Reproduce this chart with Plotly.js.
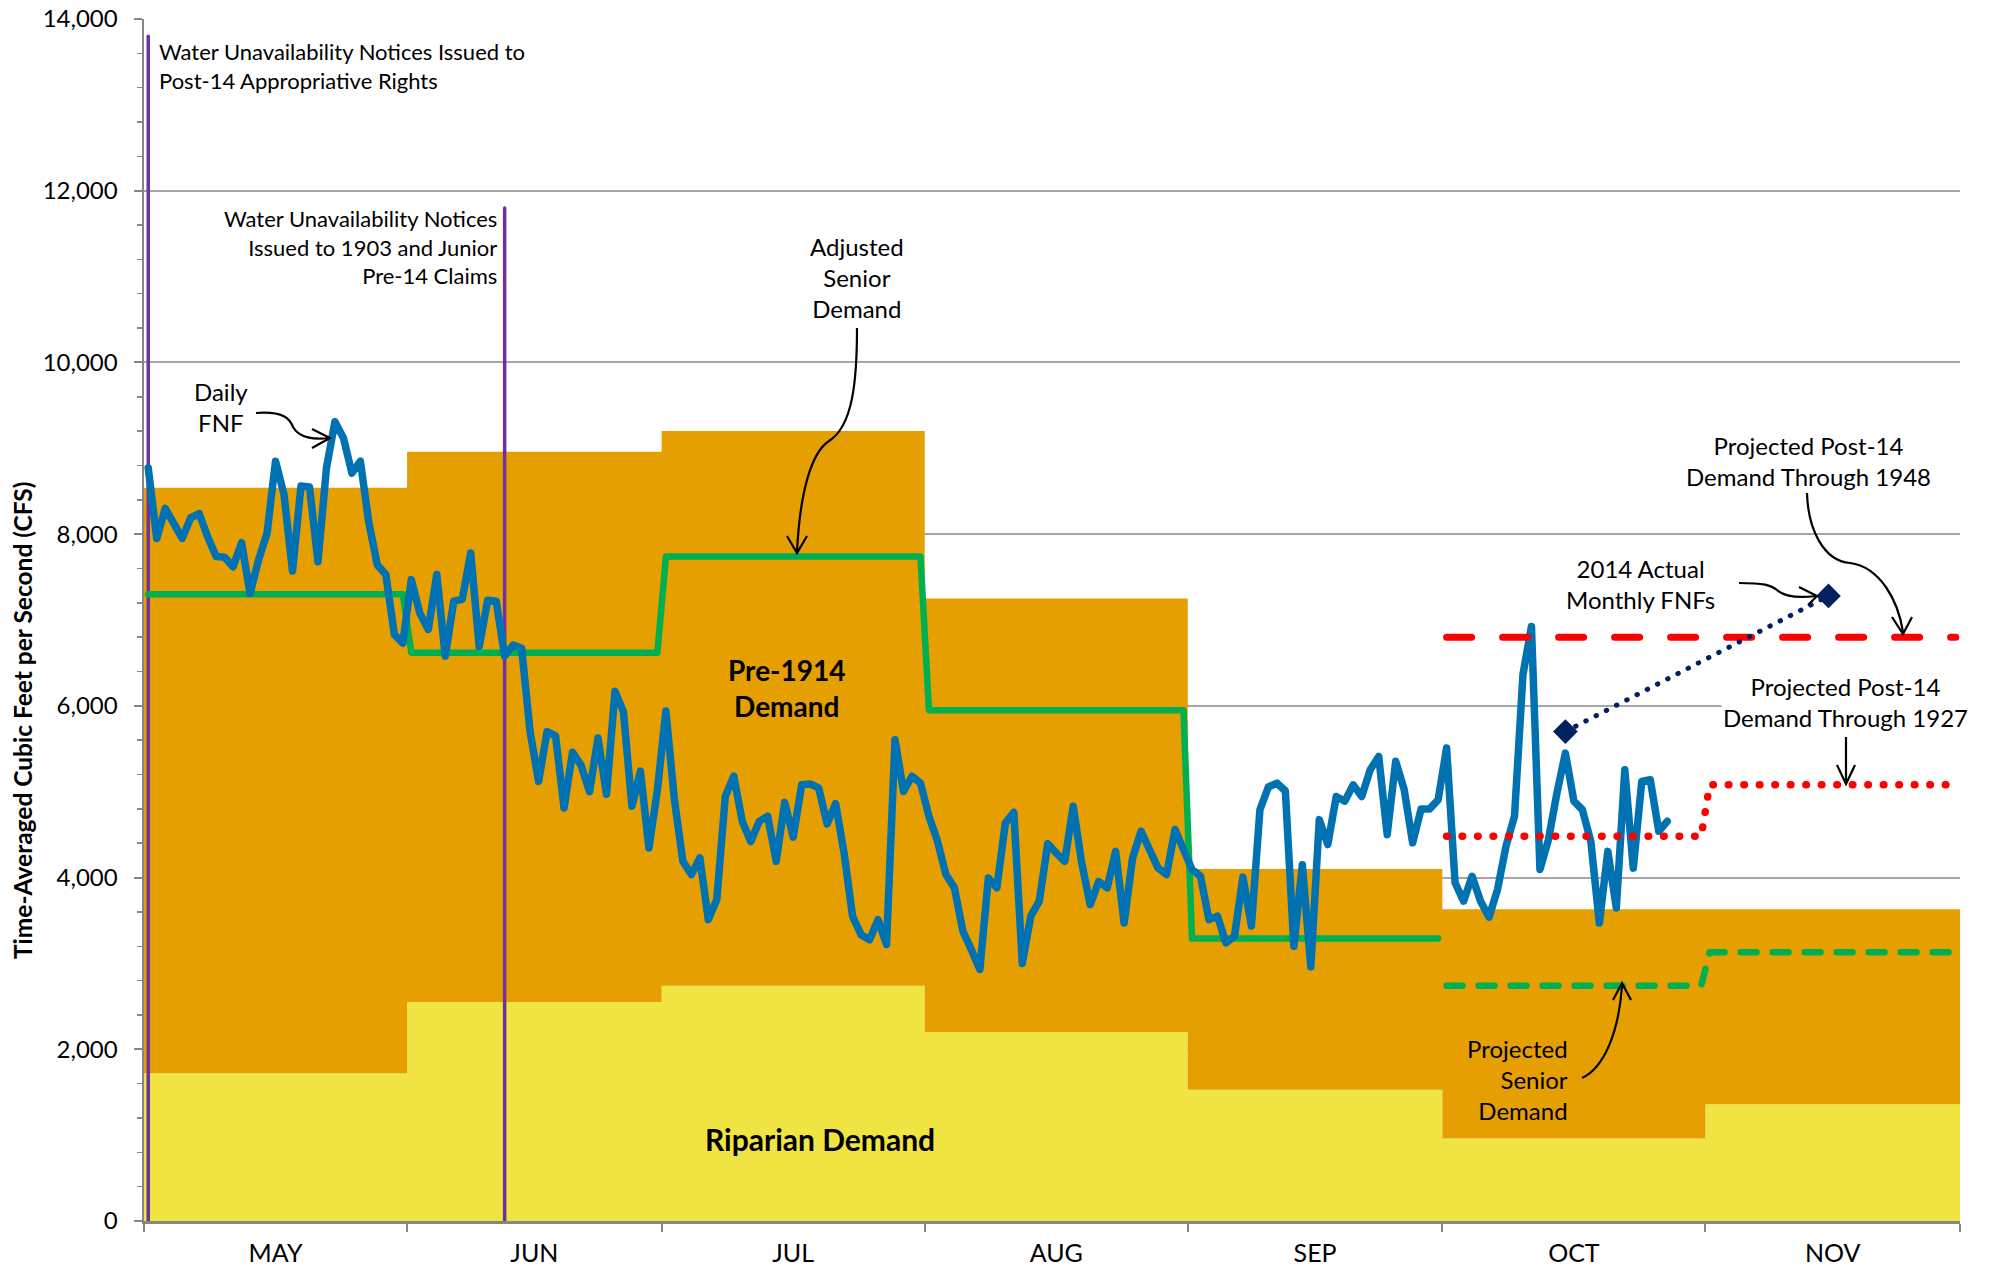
<!DOCTYPE html>
<html><head><meta charset="utf-8">
<script src="https://cdn.plot.ly/plotly-3.0.1.min.js"></script>
<style>
html,body{margin:0;padding:0;background:#fff;}
#chart{width:1993px;height:1267px;}
.js-line{stroke-linecap:round;stroke-linejoin:round;}
</style></head><body><div id="chart"></div>
<script>
// ---------------- DATA ----------------
const months = ['MAY','JUN','JUL','AUG','SEP','OCT','NOV'];
const monthStarts = ['2014-05-01','2014-06-01','2014-07-01','2014-08-01','2014-09-01','2014-10-01','2014-11-01'];
const monthDays = [31,30,31,31,30,31,30];
const riparianDemand = [1720,2550,2740,2200,1530,960,1360];
const pre1914Demand = [6820,6410,6460,5050,2570,2670,2270];
const adjustedSeniorDemand = [7300,6620,7740,5950,3290];      // MAY..SEP
const projectedSeniorDemand = [2740,3130];                     // OCT..NOV
const projectedPost14Thru1948 = [6800,6800];                   // OCT..NOV
const projectedPost14Thru1927 = [4480,5080];                   // OCT..NOV
const monthlyFNFDates = ['2014-10-15','2014-11-15'];
const monthlyFNF = [5700,7280];
const noticeDates = ['2014-05-01','2014-06-12'];
const noticeTops = [13800,11800];
const fnfStart = '2014-05-01';
const dailyFNF = [
8770,7950,8300,8130,7950,8190,8240,7970,7740,7730,7620,7900,7310,7700,8010,8850,8460,7570,8560,8550,
7680,8770,9310,9120,8710,8850,8130,7640,7530,6830,6730,
7470,7080,6890,7530,6580,7220,7240,7780,6690,7230,7220,6580,6710,6670,5700,5120,5700,5650,4810,5460,
5310,5000,5625,4970,6170,5930,4830,5240,4345,5020,
5940,4910,4190,4035,4230,3510,3745,4945,5180,4655,4420,4655,4715,4190,4875,4470,5080,5090,5045,4625,
4860,4285,3550,3335,3275,3510,3220,5605,5005,5180,5100,
4715,4425,4035,3880,3375,3160,2930,3995,3880,4635,4760,3000,3550,3725,4395,4285,4190,4830,4170,3685,
3955,3880,4305,3470,4230,4540,4325,4110,4035,4560,4325,
4095,4015,3510,3550,3240,3315,4005,3435,4790,5055,5100,5010,3200,4150,2960,4675,4385,4945,4890,5080,
4945,5255,5410,4500,5355,5025,4405,4800,4800,4905,
5510,3940,3725,4015,3725,3540,3860,4365,4715,6365,6925,4095,4440,4985,5450,4890,4790,4420,3470,4305,
3645,5255,4110,5120,5140,4540,4655
];

// ---------------- HELPERS ----------------
function addDays(iso, days){
  const p = iso.split('-').map(Number);
  const t = new Date(Date.UTC(p[0], p[1]-1, p[2]) + days*86400000);
  return t.toISOString().slice(0,19).replace('T',' ');
}
const xStart = monthStarts[0];
const xEnd = addDays(monthStarts[6], monthDays[6]);
const monthCenters = monthStarts.map((s,i)=>addDays(s, monthDays[i]/2));

const areaX = monthStarts.map(s=>addDays(s,0)).concat([xEnd]);
const stepY = arr => arr.concat([arr[arr.length-1]]);

function monthlyLine(values, firstMonth){
  const x=[], y=[];
  values.forEach((v,k)=>{
    const m = firstMonth+k;
    x.push(addDays(monthStarts[m],0.5)); y.push(v);
    x.push(addDays(monthStarts[m],monthDays[m]-0.5)); y.push(v);
  });
  return {x,y};
}
const adj = monthlyLine(adjustedSeniorDemand,0);
const psd = monthlyLine(projectedSeniorDemand,5);
const p48 = monthlyLine(projectedPost14Thru1948,5);
const p27 = monthlyLine(projectedPost14Thru1927,5);
const dailyX = dailyFNF.map((v,i)=>addDays(fnfStart, i+0.5));

// ---------------- TRACES ----------------
const traces = [
  {x:areaX, y:stepY(riparianDemand), stackgroup:'dem', mode:'lines', line:{shape:'hv', width:0, color:'#F0E442'},
   fillcolor:'#F0E442', name:'Riparian Demand'},
  {x:areaX, y:stepY(pre1914Demand), stackgroup:'dem', mode:'lines', line:{shape:'hv', width:0, color:'#E69F00'},
   fillcolor:'#E69F00', name:'Pre-1914 Demand'},
  {x:[addDays(noticeDates[0],0.5),addDays(noticeDates[0],0.5)], y:[0,noticeTops[0]], mode:'lines',
   line:{color:'#7030A0', width:3.5}, name:'Notice Post-14'},
  {x:[addDays(noticeDates[1],0.5),addDays(noticeDates[1],0.5)], y:[0,noticeTops[1]], mode:'lines',
   line:{color:'#7030A0', width:3.5}, name:'Notice 1903'},
  {x:adj.x, y:adj.y, mode:'lines', line:{color:'#00B050', width:6.5}, name:'Adjusted Senior Demand'},
  {x:dailyX, y:dailyFNF, mode:'lines', line:{color:'#0072B2', width:7.5}, name:'Daily FNF'},
  {x:psd.x, y:psd.y, mode:'lines', line:{color:'#00B050', width:6.5, dash:'16px,16px'}, name:'Projected Senior Demand'},
  {x:p48.x, y:p48.y, mode:'lines', line:{color:'#FF0000', width:7, dash:'25px,31px'}, name:'Projected Post-14 1948'},
  {x:p27.x, y:p27.y, mode:'lines', line:{color:'#FF0000', width:7.5, dash:'0.5px,15px'}, name:'Projected Post-14 1927'},
  {x:monthlyFNFDates.map(d=>addDays(d,0.5)), y:monthlyFNF, xaxis:'x2', mode:'lines+markers',
   line:{color:'#002060', width:5, dash:'0.5px,11px'},
   marker:{symbol:'diamond', size:19, color:'#002060'}, name:'2014 Actual Monthly FNFs'}
];
traces.forEach(t=>{t.showlegend=false; t.hoverinfo='skip';});

// ---------------- ANNOTATION GEOMETRY (pixel -> paper) ----------------
const L=144, R=1960, T=19, B=1221;
const px = x => (x-L)/(R-L), py = y => (B-y)/(B-T);
function path(cmds){
  return cmds.map(c=>{
    const out=[c[0]];
    for(let i=1;i<c.length;i+=2) out.push(px(c[i]).toFixed(5)+','+py(c[i+1]).toFixed(5));
    return out[0]+' '+out.slice(1).join(' ');
  }).join(' ');
}
const arrows = [
  {d:[['M',256,413],['C',284,411,290,419,293,427],['C',299,438,315,440,329,438]], h:[[312,429],[330,438],[312,448]]},
  {d:[['M',857,328],['C',857,380,853,426,829,441],['C',812,452,800,490,797,552]], h:[[787,536],[797,553],[807,536]]},
  {d:[['M',1807,493],['C',1808,530,1824,561,1850,563],['C',1880,567,1898,600,1903,632]], h:[[1892,617],[1903,634],[1912,617]]},
  {d:[['M',1739,583],['C',1764,583,1771,585,1777,590],['C',1785,597,1800,598,1816,596]], h:[[1799,587],[1817,596],[1808,605]]},
  {d:[['M',1846,737],['L',1846,783]], h:[[1837,765],[1846,784],[1855,765]]},
  {d:[['M',1582,1078],['C',1604,1068,1619,1032,1622,985]], h:[[1613,1000],[1622,983],[1631,1000]]}
];
const shapes = [];
arrows.forEach(a=>{
  shapes.push({type:'path', xref:'paper', yref:'paper', path:path(a.d), line:{color:'#000', width:2.2}});
  shapes.push({type:'path', xref:'paper', yref:'paper',
    path:path([['M',a.h[0][0],a.h[0][1]],['L',a.h[1][0],a.h[1][1]],['L',a.h[2][0],a.h[2][1]]]), line:{color:'#000', width:2.2}});
});

const F = 'Lato, sans-serif';
function ann(text, x, y, opts){
  return Object.assign({text, xref:'paper', yref:'paper', x:px(x), y:py(y), showarrow:false,
    xanchor:'center', yanchor:'middle', align:'center', font:{family:F, size:24, color:'#000'}}, opts||{});
}
const annotations = [
  ann('Water Unavailability Notices Issued to<br>Post-14 Appropriative Rights', 157, 66,
      {xanchor:'left', align:'left', font:{family:F, size:22, color:'#000'}}),
  ann('Water Unavailability Notices<br>Issued to 1903 and Junior<br>Pre-14 Claims', 499, 247,
      {xanchor:'right', align:'right', font:{family:F, size:22, color:'#000'}}),
  ann('Daily<br>FNF', 221, 407),
  ann('Adjusted<br>Senior<br>Demand', 857, 277),
  ann('<b>Pre-1914<br>Demand</b>', 787, 688, {font:{family:F, size:28, color:'#000'}}),
  ann('<b>Riparian Demand</b>', 820, 1139, {font:{family:F, size:30, color:'#000'}}),
  ann('2014 Actual<br>Monthly FNFs', 1640, 584),
  ann('Projected Post-14<br>Demand Through 1948', 1808, 461),
  ann('Projected Post-14<br>Demand Through 1927', 1845, 702, {bgcolor:'#fff'}),
  ann('Projected<br>Senior<br>Demand', 1570, 1079, {xanchor:'right', align:'right'}),
  ann('<b>Time-Averaged Cubic Feet per Second (CFS)</b>', 23, 720,
      {textangle:-90, font:{family:F, size:24.5, color:'#000'}})
];

const layout = {
  width:1993, height:1267,
  margin:{l:L, r:1993-R, t:T, b:1267-B, autoexpand:false},
  paper_bgcolor:'#fff', plot_bgcolor:'#fff',
  font:{family:F, color:'#000'},
  showlegend:false,
  xaxis:{type:'date', range:[xStart,xEnd], tickmode:'array', tickvals:areaX, ticktext:areaX.map(()=>''),
    ticks:'outside', ticklen:8, tickwidth:2, tickcolor:'#868686', showgrid:false, zeroline:false,
    showline:true, linecolor:'#868686', linewidth:2.5, fixedrange:true},
  xaxis2:{type:'date', overlaying:'x', anchor:'y', side:'bottom', range:[xStart,xEnd], tickmode:'array',
    tickvals:monthCenters, ticktext:months, ticks:'', showgrid:false, zeroline:false, showline:false,
    tickfont:{family:F, size:25, color:'#000'}, ticklabelstandoff:15, fixedrange:true},
  yaxis:{range:[0,14000], tickmode:'linear', tick0:0, dtick:2000, tickformat:',d',
    ticks:'outside', ticklen:8, tickwidth:2, tickcolor:'#868686',
    minor:{dtick:400, ticks:'outside', ticklen:5, tickwidth:1.5, tickcolor:'#868686', showgrid:false},
    showgrid:true, gridcolor:'#A6A6A6', gridwidth:2, zeroline:false,
    showline:true, linecolor:'#868686', linewidth:2.5,
    tickfont:{family:F, size:24, color:'#000'}, ticklabelstandoff:11, fixedrange:true},
  shapes, annotations
};
Plotly.newPlot('chart', traces, layout, {displayModeBar:false, staticPlot:true});
</script></body></html>
